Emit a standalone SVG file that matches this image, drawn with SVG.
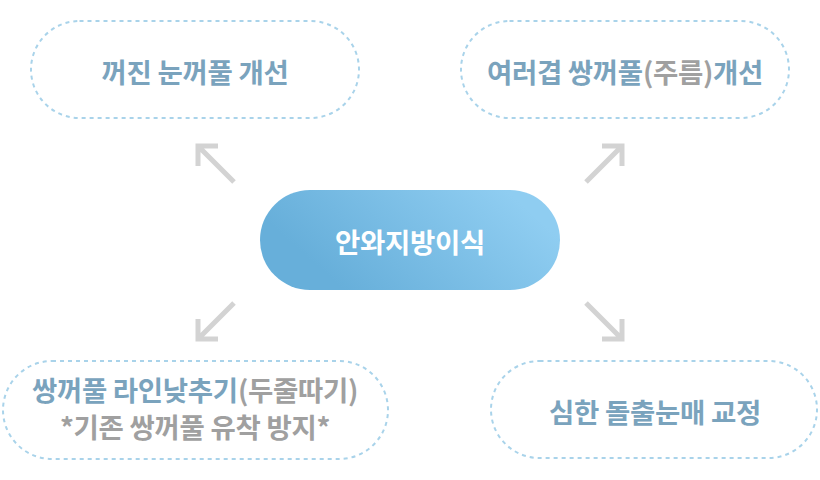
<svg xmlns="http://www.w3.org/2000/svg" width="820" height="480" viewBox="0 0 820 480">
<defs>
<linearGradient id="g" x1="0.15" y1="0.65" x2="0.95" y2="0.35">
<stop offset="0" stop-color="#67afda"/>
<stop offset="1" stop-color="#8fcdf1"/>
</linearGradient>
</defs>
<style>
.box{fill:#fff;stroke:#a9d3ea;stroke-width:2;stroke-dasharray:4 4}
.t{font-family:"Noto Sans CJK KR","Noto Sans",sans-serif;font-weight:700;font-size:27.5px;text-anchor:middle;fill:#7aa3bd;letter-spacing:-0.3px}
.g{fill:#a0a0a0}
.c{fill:#fff}
.arr{fill:none;stroke:#d3d3d3;stroke-width:5;stroke-linejoin:miter}
</style>
<g id="connectors">
<path class="arr" d="M234,182 L198,146 M198,166 L198,146 L218,146"/>
<path class="arr" d="M586,182 L622,146 M602,146 L622,146 L622,166"/>
<path class="arr" d="M234,303 L198,339 M198,319 L198,339 L218,339"/>
<path class="arr" d="M586,303 L622,339 M622,319 L622,339 L602,339"/>
</g>
<g id="n1">
<rect class="box" x="31" y="21" width="328" height="97" rx="48.5"/>
<text class="t" x="195" y="83">꺼진 눈꺼풀 개선</text>
</g>
<g id="n2">
<rect class="box" x="461" y="21" width="328" height="97" rx="48.5"/>
<text class="t" x="625" y="83">여러겹 쌍꺼풀<tspan class="g">(주름)</tspan>개선</text>
</g>
<g id="center">
<rect x="260" y="190" width="300" height="100" rx="50" fill="url(#g)"/>
<text class="t c" x="410" y="253">안와지방이식</text>
</g>
<g id="n3">
<rect class="box" x="3" y="361" width="385" height="98" rx="49"/>
<text class="t" x="195" y="401">쌍꺼풀 라인낮추기<tspan class="g">(두줄따기)</tspan></text>
<text class="t g" x="195" y="438">*기존 쌍꺼풀 유착 방지*</text>
</g>
<g id="n4">
<rect class="box" x="491" y="361" width="326" height="97" rx="48.5"/>
<text class="t" x="655" y="423">심한 돌출눈매 교정</text>
</g>
</svg>
